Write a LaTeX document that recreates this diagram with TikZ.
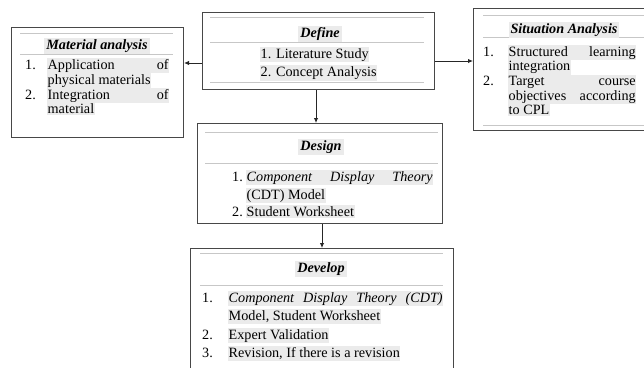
\documentclass[tikz,border=0pt]{standalone}
\usepackage{fontspec}
\setmainfont{Liberation Serif}
\usetikzlibrary{arrows.meta}
\begin{document}
\begin{tikzpicture}[x=1pt,y=-1pt,
  box/.style={draw=black!72, line width=1.1pt, inner sep=0, anchor=north west},
  sepline/.style={draw=black!22, line width=0.9pt},
  conn/.style={draw=black!85, line width=0.9pt, -{Latex[length=5pt,width=4.5pt]}},
  txt/.style={font=\fontsize{14.2}{16}\selectfont, inner xsep=0.5pt, inner ysep=1.2pt, anchor=base west, fill=black!8},
  num/.style={font=\fontsize{14.2}{16}\selectfont, inner sep=0, anchor=base west},
  ttl/.style={font=\fontsize{14.2}{16}\selectfont\bfseries\itshape, inner xsep=2pt, inner ysep=1.5pt, anchor=base, fill=black!8}]
\useasboundingbox (0,0) rectangle (644,367);

% boxes
\node[box, minimum width=172pt, minimum height=110pt] (mat) at (11,27) {};
\node[box, minimum width=232pt, minimum height=77pt] (def) at (202,12) {};
\node[box, minimum width=180pt, minimum height=122pt] (sit) at (473,8) {};
\node[box, minimum width=245pt, minimum height=100pt] (des) at (197,123) {};
\node[box, minimum width=263pt, minimum height=130pt] (dev) at (190,248) {};

% separator lines
\draw[sepline] (20,33) -- (173,33) (20,54) -- (173,54);
\draw[sepline] (210,17) -- (424,17) (210,42) -- (424,42) (210,82) -- (424,82);
\draw[sepline] (483,15) -- (644,15) (483,37) -- (644,37) (483,125) -- (644,125);
\draw[sepline] (205,132) -- (438,132) (205,163) -- (438,163);
\draw[sepline] (200,253) -- (443,253) (200,285) -- (443,285);

% Define
\node[ttl] (defT) at (320,37) {Define};
\node[txt] (def1) at (260,58) {1. Literature Study};
\node[txt] (def2) at (260,76.5) {2. Concept Analysis};

% Material analysis
\node[ttl] (matT) at (97,49) {Material analysis};
\node[num] (matn1) at (25,69) {1.};
\node[txt] (mat1) at (47,69) {\makebox[121pt][s]{Application of}};
\node[txt] (mat2) at (47,84) {physical materials};
\node[num] (matn2) at (25,99) {2.};
\node[txt] (mat3) at (47,99) {\makebox[121pt][s]{Integration of}};
\node[txt] (mat4) at (47,113.5) {material};

% Situation Analysis
\node[ttl] (sitT) at (564,33) {Situation Analysis};
\node[num] (sitn1) at (483,56) {1.};
\node[txt] (sit1) at (508,56) {\makebox[127pt][s]{Structured learning}};
\node[txt] (sit2) at (508,70.7) {integration};
\node[num] (sitn2) at (483,85.4) {2.};
\node[txt] (sit3) at (508,85.4) {\makebox[127pt][s]{Target course}};
\node[txt] (sit4) at (508,100) {\makebox[127pt][s]{objectives according}};
\node[txt] (sit5) at (508,114.8) {to CPL};

% Design
\node[ttl] (desT) at (321,150) {Design};
\node[num] (desn1) at (232,181) {1.};
\node[txt] (des1) at (246,181) {\makebox[186pt][s]{\itshape Component Display Theory}};
\node[txt] (des2) at (246,199) {(CDT) Model};
\node[num] (desn2) at (232,216.5) {2.};
\node[txt] (des3) at (246,216.5) {Student Worksheet};

% Develop
\node[ttl] (devT) at (321,272) {Develop};
\node[num] (devn1) at (202,302) {1.};
\node[txt] (dev1) at (228,302) {\makebox[214pt][s]{\itshape Component Display Theory (CDT)}};
\node[txt] (dev2) at (228,320.5) {Model, Student Worksheet};
\node[num] (devn2) at (202,339) {2.};
\node[txt] (dev3) at (228,339) {Expert Validation};
\node[num] (devn3) at (202,357.5) {3.};
\node[txt] (dev4) at (228,357.5) {Revision, If there is a revision};

% connectors
\draw[conn] (def.west |- 0,63) -- (mat.east |- 0,63);
\draw[conn] (def.east |- 0,61) -- (sit.west |- 0,61);
\draw[conn] (def.south -| 316,0) -- (des.north -| 316,0);
\draw[conn] (des.south -| 322,0) -- (dev.north -| 322,0);
\end{tikzpicture}
\end{document}
